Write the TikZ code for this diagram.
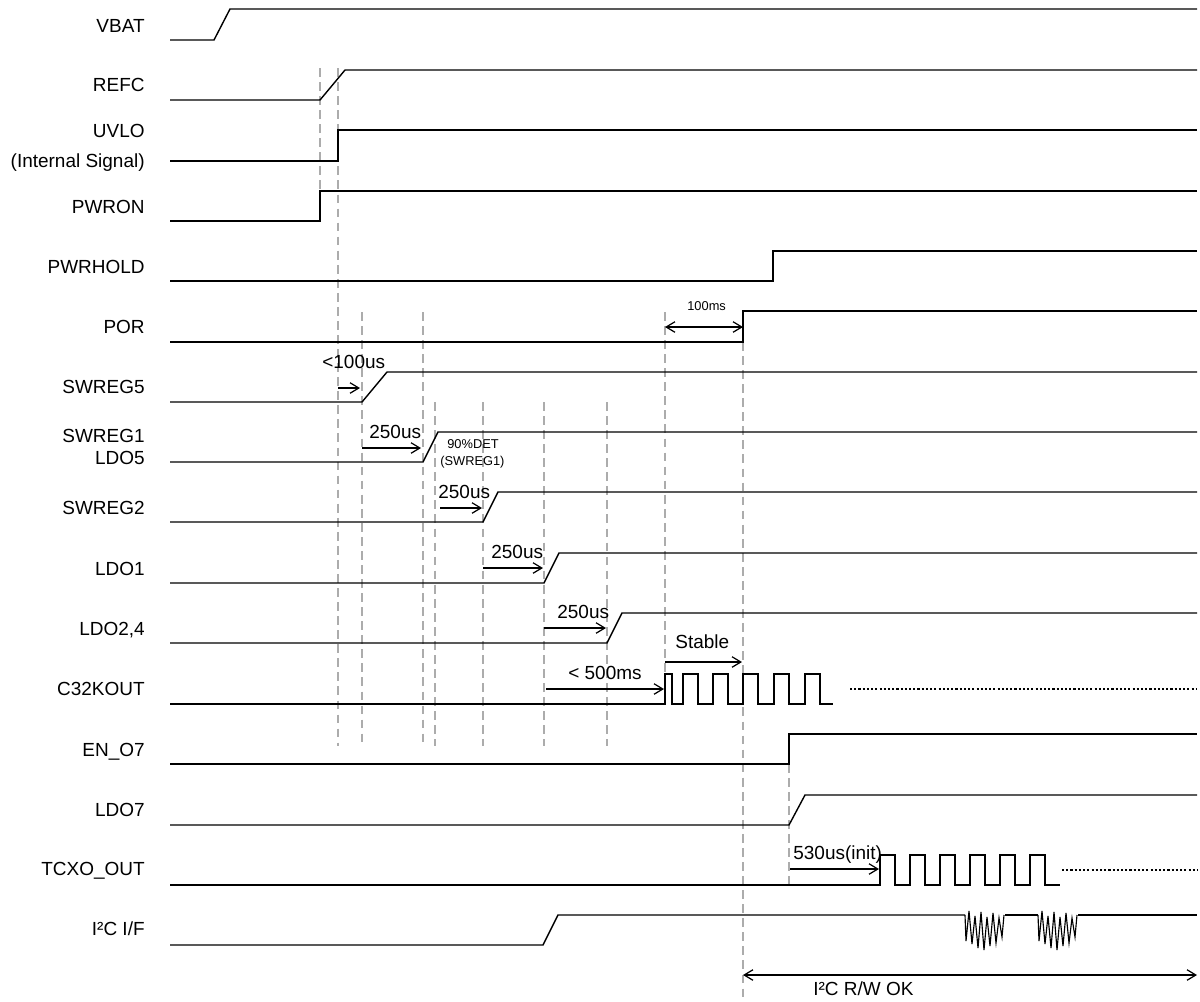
\documentclass[tikz,border=0pt]{standalone}
\usepackage{fontspec}
\setmainfont{Liberation Sans}
\usetikzlibrary{arrows.meta}

\begin{document}
\begin{tikzpicture}[x=0.02cm,y=-0.02cm]
    \tikzstyle{every node}+=[inner sep=0pt, font=\fontsize{10.8}{13}\selectfont]
    \tikzstyle{wave}=[black, line width=0.8pt]
    \tikzstyle{guide}=[gray!65, line width=0.6pt, dash pattern=on 5pt off 3pt]
    \tikzstyle{timearrow}=[black, line width=0.7pt, -{Straight Barb[length=5pt,width=6pt]}]
    \tikzstyle{twoway}=[black, line width=0.7pt, {Straight Barb[length=5pt,width=6pt]}-{Straight Barb[length=5pt,width=6pt]}]
    \tikzstyle{tail}=[black, line width=0.7pt, dash pattern=on 1.2pt off 1.2pt]
    \tikzstyle{sig}=[anchor=base east]
    \tikzstyle{tag}=[anchor=base west]
    \tikzstyle{small}=[tag, font=\fontsize{7.3}{9}\selectfont]
    \useasboundingbox (0,0) rectangle (1200,1001);

    % signal names
    \node[sig] (vbat) at (145,32) {VBAT};
    \node[sig] (refc) at (145,91) {REFC};
    \node[sig] (uvlo) at (145,137) {UVLO};
    \node[sig] (uvlonote) at (145,167) {(Internal Signal)};
    \node[sig] (pwron) at (145,213) {PWRON};
    \node[sig] (pwrhold) at (145,273) {PWRHOLD};
    \node[sig] (por) at (145,333) {POR};
    \node[sig] (swreg5) at (145,393) {SWREG5};
    \node[sig] (swreg1) at (145,442) {SWREG1};
    \node[sig] (ldo5) at (145,464) {LDO5};
    \node[sig] (swreg2) at (145,514) {SWREG2};
    \node[sig] (ldo1) at (145,575) {LDO1};
    \node[sig] (ldo24) at (145,635) {LDO2,4};
    \node[sig] (c32k) at (145,695) {C32KOUT};
    \node[sig] (eno7) at (145,756) {EN\_O7};
    \node[sig] (ldo7) at (145,816) {LDO7};
    \node[sig] (tcxo) at (145,875) {TCXO\_OUT};
    \node[sig] (i2c) at (145,935) {I²C I/F};

    % guide lines
    \draw[guide] (320,68) -- (320,191);
    \draw[guide] (338,68) -- (338,746);
    \foreach \x in {362,423}
        \draw[guide] (\x,312) -- (\x,746);
    \foreach \x in {435,483,544,607}
        \draw[guide] (\x,402) -- (\x,746);
    \draw[guide] (665,312) -- (665,674);
    \draw[guide] (743,342) -- (743,999);
    \draw[guide] (789,764) -- (789,885);

    % waveforms
    \draw[wave] (170,40) -- (214,40) -- (230,9) -- (1197,9);
    \draw[wave] (170,100) -- (320,100) -- (345,70) -- (1197,70);
    \draw[wave] (170,161) -- (338,161) -- (338,130) -- (1197,130);
    \draw[wave] (170,221) -- (320,221) -- (320,191) -- (1197,191);
    \draw[wave] (170,281) -- (773,281) -- (773,251) -- (1197,251);
    \draw[wave] (170,342) -- (743,342) -- (743,311) -- (1197,311);
    \draw[wave] (170,402) -- (362,402) -- (387,372) -- (1197,372);
    \draw[wave] (170,462) -- (423,462) -- (438,432) -- (1197,432);
    \draw[wave] (170,522) -- (483,522) -- (498,492) -- (1197,492);
    \draw[wave] (170,583) -- (544,583) -- (559,553) -- (1197,553);
    \draw[wave] (170,643) -- (607,643) -- (622,613) -- (1197,613);
    \draw[wave] (170,704) -- (665,704) -- (665,674) -- (672,674) -- (672,704)
        foreach \t in {683,713,743,774,805} { -- (\t,704) -- (\t,674) -- ({\t+15},674) -- ({\t+15},704) }
        -- (833,704);
    \draw[tail] (850,689) -- (1197,689);
    \draw[wave] (170,764) -- (789,764) -- (789,734) -- (1197,734);
    \draw[wave] (170,825) -- (789,825) -- (805,795) -- (1197,795);
    \draw[wave] (170,885)
        foreach \t in {880,910,...,1030} { -- (\t,885) -- (\t,855) -- ({\t+15},855) -- ({\t+15},885) }
        -- (1060,885);
    \draw[tail] (1062,870) -- (1197,870);
    \draw[wave] (170,945) -- (543,945) -- (558,915) -- (965,915);
    \draw[wave] (1005,915) -- (1038,915);
    \draw[wave] (1078,915) -- (1197,915);
    \foreach \s in {965,1038}
        \draw[wave, line width=0.65pt] (\s,915)
            foreach \dx/\dy in {1/26,4/-4,7/29,10/1,13/33,16/-3,19/35,22/2,25/31,28/-2,31/28,34/3,37/22,39/0}
            { -- ({\s+\dx},{915+\dy}) };

    % timing arrows
    \draw[timearrow] (338,388) -- (360,388);
    \node[tag] (t100us) at (322,368) {<100us};
    \draw[timearrow] (362,448) -- (421,448);
    \node[tag] (t250a) at (369,438) {250us};
    \node[small] (det) at (447,448) {90\%DET};
    \node[small] (detsrc) at (440,465) {(SWREG1)};
    \draw[timearrow] (440,508) -- (482,508);
    \node[tag] (t250b) at (438,498) {250us};
    \draw[timearrow] (483,568) -- (543,568);
    \node[tag] (t250c) at (491,558) {250us};
    \draw[timearrow] (544,628) -- (606,628);
    \node[tag] (t250d) at (557,618) {250us};
    \draw[timearrow] (546,689) -- (664,689);
    \node[tag] (t500ms) at (568,679) {< 500ms};
    \draw[timearrow] (665,662) -- (742,662);
    \node[tag] (stable) at (675,648) {Stable};
    \draw[twoway] (665,327) -- (743,327);
    \node[small] (t100ms) at (687,310) {100ms};
    \draw[timearrow] (790,869) -- (879,869);
    \node[tag] (t530us) at (793,859) {530us(init)};
    \draw[twoway] (743,975) -- (1197,975);
    \node[tag] (rwok) at (813,995) {I²C R/W OK};
\end{tikzpicture}
\end{document}
